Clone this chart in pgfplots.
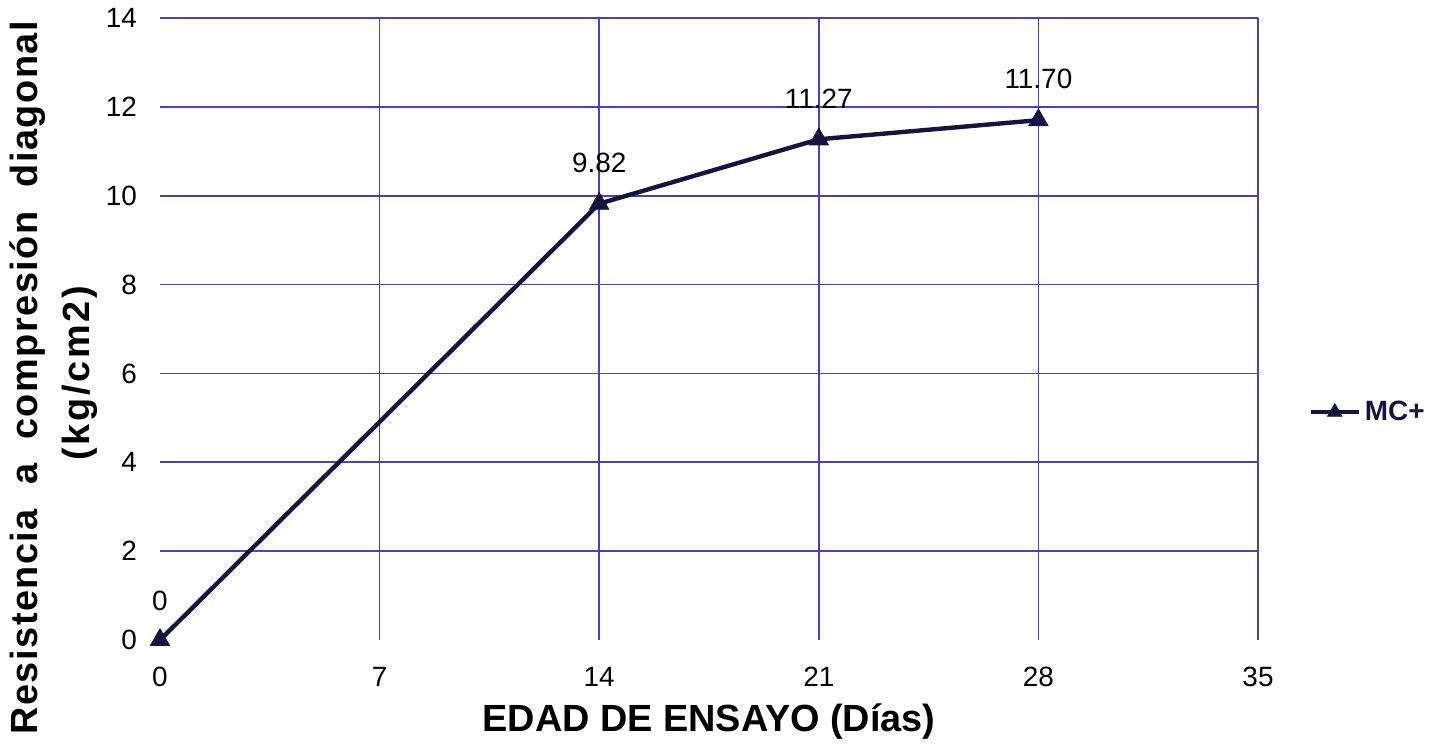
\documentclass[border=0pt]{standalone}
\usepackage{pgfplots}
\pgfplotsset{compat=1.18}
\usetikzlibrary{calc}
\usepackage{fontspec}
\setmainfont{Liberation Sans}
\definecolor{gridblue}{RGB}{72,64,200}
\definecolor{navy}{RGB}{20,20,64}
\begin{document}
\begin{tikzpicture}
\begin{axis}[
  at={(0,0)}, anchor=south west,
  scale only axis, width=549bp, height=311bp,
  xmin=0, xmax=35, ymin=0, ymax=14,
  xtick={7,14,21,28,35}, ytick={2,4,...,14},
  extra x ticks={0}, extra y ticks={0},
  extra tick style={grid=none},
  grid=major,
  major grid style={draw=gridblue, line width=0.8pt},
  major tick length=0pt,
  axis line style={draw=none},
  /pgf/number format/assume math mode=true,
  ticklabel style={font=\fontsize{14}{16}\selectfont, text=black},
  xticklabel style={yshift=-10bp},
  yticklabel style={xshift=-8bp},
  legend style={at={(axis cs:36.6,5.13)}, anchor=west, draw=none, fill=none,
    font=\fontsize{14}{16}\selectfont\bfseries, text=navy, inner sep=0pt},
  legend image code/.code={\draw[#1, mark repeat=2, mark phase=2, mark size=4.2pt] plot coordinates {(0bp,0bp) (12bp,0bp) (24bp,0bp)};},
  clip=false,
]
\addplot[navy, line width=2.2pt, mark=triangle*, mark size=5.6pt, mark options={solid, line width=0.4pt}]
  coordinates {(0,0) (14,9.82) (21,11.27) (28,11.70)};
\addlegendentry{MC+}
\node[anchor=south, font=\fontsize{14}{16}\selectfont, yshift=11bp] at (axis cs:0,0) {0};
\node[anchor=south, font=\fontsize{14}{16}\selectfont, yshift=12bp] at (axis cs:14,9.82) {9.82};
\node[anchor=south, font=\fontsize{14}{16}\selectfont, yshift=12bp] at (axis cs:21,11.27) {11.27};
\node[anchor=south, font=\fontsize{14}{16}\selectfont, yshift=12bp] at (axis cs:28,11.70) {11.70};
\node[font=\fontsize{19}{22}\selectfont\bfseries] at ($(axis cs:17.5,0)+(0,-41bp)$) {EDAD DE ENSAYO (Días)};
\node[rotate=90, font=\fontsize{19}{22}\selectfont\bfseries\addfontfeature{LetterSpace=4}] at ($(axis cs:0,5.9)+(-66bp,0)$) {Resistencia\ \ a\ \ compresión\ \ diagonal};
\node[rotate=90, font=\fontsize{19}{22}\selectfont\bfseries\addfontfeature{LetterSpace=7}] at ($(axis cs:0,6.0)+(-40bp,0)$) {(kg/cm2)};
\end{axis}
\pgfresetboundingbox
\path[use as bounding box] (-80bp,-54bp) rectangle (637bp,320bp);
\end{tikzpicture}
\end{document}
